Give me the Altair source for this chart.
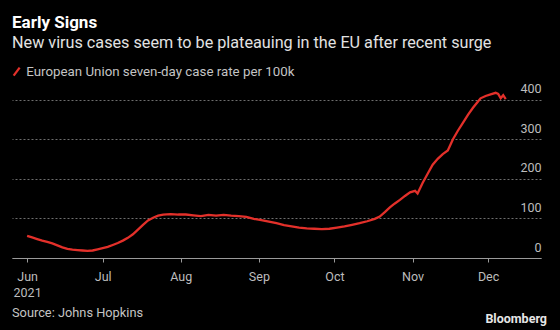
import altair as alt
import pandas as pd

# ---- data ----
dates = [
    "2021-06-01", "2021-06-03", "2021-06-05", "2021-06-07", "2021-06-09", "2021-06-11",
    "2021-06-13", "2021-06-15", "2021-06-17", "2021-06-19", "2021-06-21", "2021-06-23",
    "2021-06-25", "2021-06-27", "2021-06-29", "2021-07-01", "2021-07-03", "2021-07-05",
    "2021-07-07", "2021-07-09", "2021-07-11", "2021-07-13", "2021-07-15", "2021-07-17",
    "2021-07-19", "2021-07-21", "2021-07-23", "2021-07-25", "2021-07-28", "2021-07-31",
    "2021-08-03", "2021-08-06", "2021-08-09", "2021-08-12", "2021-08-15", "2021-08-18",
    "2021-08-21", "2021-08-24", "2021-08-27", "2021-08-30", "2021-09-02", "2021-09-05",
    "2021-09-08", "2021-09-11", "2021-09-14", "2021-09-17", "2021-09-20", "2021-09-23",
    "2021-09-26", "2021-09-29", "2021-10-02", "2021-10-05", "2021-10-08", "2021-10-11",
    "2021-10-14", "2021-10-17", "2021-10-19", "2021-10-21", "2021-10-23", "2021-10-25",
    "2021-10-27", "2021-10-29", "2021-10-31", "2021-11-02", "2021-11-03", "2021-11-05",
    "2021-11-07", "2021-11-09", "2021-11-11", "2021-11-13", "2021-11-15", "2021-11-17",
    "2021-11-19", "2021-11-21", "2021-11-23", "2021-11-25", "2021-11-27", "2021-11-28",
    "2021-11-30", "2021-12-02", "2021-12-04", "2021-12-05", "2021-12-06", "2021-12-07",
    "2021-12-08",
]
values = [
    56, 52, 48, 44, 41, 37,
    32, 27, 23, 21, 20, 19,
    18, 19, 22, 25, 28, 33,
    38, 44, 51, 60, 72, 84,
    95, 102, 107, 110, 111, 110,
    110, 108, 106, 109, 107, 109,
    107, 106, 104, 99, 96, 92,
    88, 83, 80, 77, 75, 74,
    73, 74, 77, 80, 84, 88,
    93, 99, 105, 116, 128, 138,
    147, 157, 166, 170, 163, 190,
    213, 236, 251, 263, 272, 300,
    322, 342, 362, 380, 396, 404,
    410, 414, 418, 415, 404, 412,
    402,
]
series_name = "European Union seven-day case rate per 100k"
month_ticks = ["2021-06-01", "2021-07-01", "2021-08-01", "2021-09-01",
               "2021-10-01", "2021-11-01", "2021-12-01"]
y_ticks = [0, 100, 200, 300, 400]

title_text = "Early Signs"
subtitle_text = "New virus cases seem to be plateauing in the EU after recent surge"
source_text = "Source: Johns Hopkins"
brand_text = "Bloomberg"

FONT = "Roboto"
RED = "#e3302a"
AXIS_GREY = "#bdbdbd"

df = pd.DataFrame({"date": dates, "value": values, "series": series_name})


def dt(s):
    y, m, d = (int(p) for p in s.split("-"))
    return alt.DateTime(year=y, month=m, date=d)


line = alt.Chart(df).mark_line(strokeWidth=2.3).encode(
    x=alt.X(
        "date:T",
        title=None,
        scale=alt.Scale(domain=[dt("2021-05-26"), dt("2021-12-22")]),
        axis=alt.Axis(
            values=[dt(s) for s in month_ticks],
            format="%b",
            labelExpr="month(datum.value) == 5 ? [datum.label, '' + year(datum.value)] : datum.label",
            grid=False,
            domainColor="#9a9a9a",
            domainWidth=1.2,
            tickColor="#9a9a9a",
            tickSize=4,
            labelPadding=8,
            labelFont=FONT,
            labelFontSize=12.5,
            labelColor=AXIS_GREY,
            labelLineHeight=16,
            labelBaseline="top",
        ),
    ),
    y=alt.Y(
        "value:Q",
        title=None,
        scale=alt.Scale(domain=[0, 420], nice=False),
        axis=alt.Axis(
            orient="right",
            values=y_ticks,
            domain=False,
            ticks=False,
            labelAlign="right",
            labelBaseline="bottom",
            labelPadding=0,
            labelOffset=-4,
            labelFont=FONT,
            labelFontSize=12.5,
            labelColor=AXIS_GREY,
            grid=True,
            gridColor="#6e6e6e",
            gridDash=[2, 2],
            gridWidth=1,
        ),
    ),
    color=alt.Color(
        "series:N",
        scale=alt.Scale(range=[RED]),
        legend=alt.Legend(
            title=None,
            orient="none",
            legendX=-2,
            legendY=-27,
            symbolType="M-0.6,0.8L0.6,-0.8",
            symbolSize=100,
            symbolStrokeWidth=2.3,
            labelFont=FONT,
            labelFontSize=13.3,
            labelColor="#c4c4c4",
            labelOffset=3,
            labelLimit=0,
            padding=0,
        ),
    ),
)

source = alt.Chart(pd.DataFrame({"t": [source_text]})).mark_text(
    align="left", baseline="middle", font=FONT, fontSize=12.8, color="#c4c4c4"
).encode(text="t:N", x=alt.value(0), y=alt.value(221))

brand = alt.Chart(pd.DataFrame({"t": [brand_text]})).mark_text(
    align="right", baseline="middle", font=FONT, fontSize=12.5, fontWeight="bold", color="#e6e6e6"
).encode(text="t:N", x=alt.value(535), y=alt.value(227))

chart = alt.layer(line, source, brand).properties(
    width=529,
    height=166,
    padding={"left": 12, "top": 92, "right": 19, "bottom": 72},
    autosize=alt.AutoSizeParams(type="none"),
    background="#000000",
    title=alt.TitleParams(
        text=title_text,
        subtitle=subtitle_text,
        anchor="start",
        frame="group",
        font=FONT,
        fontSize=17,
        fontWeight="bold",
        color="#ffffff",
        subtitleFont=FONT,
        subtitleFontSize=16.2,
        subtitleColor="#e2e2e2",
        subtitlePadding=3,
        offset=13,
    ),
).configure_view(stroke=None)

chart.save("out.html", embed_options={"renderer": "svg", "actions": False})
